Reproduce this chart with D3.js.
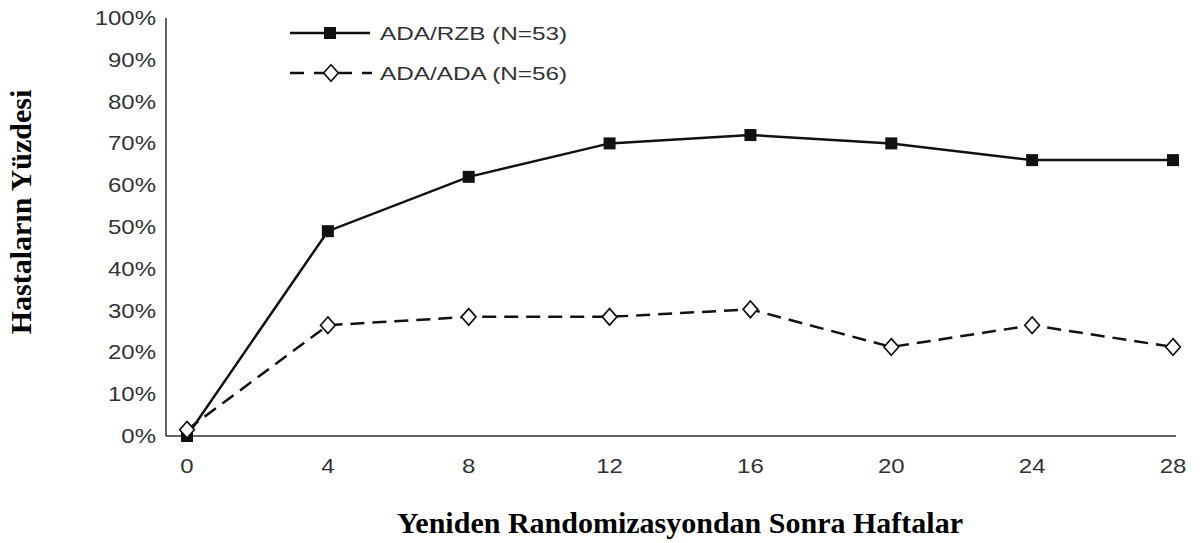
<!DOCTYPE html>
<html><head><meta charset="utf-8">
<script src="https://cdn.jsdelivr.net/npm/d3@7"></script>
<style>body{margin:0;background:#fff}</style></head><body>
<svg id="c" width="1201" height="543"></svg>
<script>
const weeks=[0,4,8,12,16,20,24,28];
const rzb=[0,49,62,70,72,70,66,66];
const ada=[1.5,26.5,28.5,28.5,30.3,21.3,26.5,21.3];
const yTicks=[0,10,20,30,40,50,60,70,80,90,100];
const svg=d3.select("#c");
const x=d3.scaleLinear().domain([0,28]).range([187,1173]);
const y=d3.scaleLinear().domain([0,100]).range([436,18]);
const tickFont="Liberation Sans, Arial, sans-serif";
const sx=1.2;
svg.append("line").attr("x1",166).attr("x2",166).attr("y1",18).attr("y2",436).attr("stroke","#333").attr("stroke-width",1.5);
svg.append("line").attr("x1",166).attr("x2",1176).attr("y1",436).attr("y2",436).attr("stroke","#333").attr("stroke-width",1.5);
svg.selectAll(".yt").data(yTicks).enter().append("text").attr("transform",d=>`translate(156,${y(d)+7}) scale(${sx},1)`)
 .attr("text-anchor","end").attr("font-family",tickFont).attr("font-size",20).attr("fill","#333").text(d=>d+"%");
svg.selectAll(".xt").data(weeks).enter().append("text").attr("transform",d=>`translate(${x(d)},473) scale(${sx},1)`)
 .attr("text-anchor","middle").attr("font-family",tickFont).attr("font-size",20).attr("fill","#333").text(d=>d);
const line=d3.line().x((d,i)=>x(weeks[i])).y(d=>y(d));
svg.append("path").datum(rzb).attr("d",line).attr("fill","none").attr("stroke","#111").attr("stroke-width",2.5);
svg.append("path").datum(ada).attr("d",line).attr("fill","none").attr("stroke","#111").attr("stroke-width",2.5).attr("stroke-dasharray","14,8");
svg.selectAll(".sq").data(rzb).enter().append("rect").attr("x",(d,i)=>x(weeks[i])-6).attr("y",d=>y(d)-6).attr("width",12).attr("height",12).attr("fill","#111");
const dia=d3.symbol().type(d3.symbolDiamond).size(110);
svg.selectAll(".dm").data(ada).enter().append("path").attr("d",dia).attr("transform",(d,i)=>`translate(${x(weeks[i])},${y(d)}) scale(1.3,0.85)`).attr("fill","#fff").attr("stroke","#111").attr("stroke-width",1.5);
// legend
svg.append("line").attr("x1",290).attr("x2",370).attr("y1",33).attr("y2",33).attr("stroke","#111").attr("stroke-width",2.5);
svg.append("rect").attr("x",324).attr("y",27).attr("width",12).attr("height",12).attr("fill","#111");
svg.append("text").attr("transform","translate(380,40) scale(1.28,1)").attr("font-family",tickFont).attr("font-size",19).attr("fill","#333").text("ADA/RZB (N=53)");
svg.append("line").attr("x1",290).attr("x2",372).attr("y1",73).attr("y2",73).attr("stroke","#111").attr("stroke-width",2.5).attr("stroke-dasharray","14,10");
svg.append("path").attr("d",dia).attr("transform","translate(331,73) scale(1.3,0.85)").attr("fill","#fff").attr("stroke","#111").attr("stroke-width",1.5);
svg.append("text").attr("transform","translate(380,80) scale(1.28,1)").attr("font-family",tickFont).attr("font-size",19).attr("fill","#333").text("ADA/ADA (N=56)");
svg.append("text").attr("transform","translate(31,212) rotate(-90)").attr("text-anchor","middle")
 .attr("font-family","Liberation Serif, Times New Roman, serif").attr("font-weight","bold").attr("font-size",30).text("Hastaların Yüzdesi");
svg.append("text").attr("x",680).attr("y",533).attr("text-anchor","middle")
 .attr("font-family","Liberation Serif, Times New Roman, serif").attr("font-weight","bold").attr("font-size",30).text("Yeniden Randomizasyondan Sonra Haftalar");
</script></body></html>
